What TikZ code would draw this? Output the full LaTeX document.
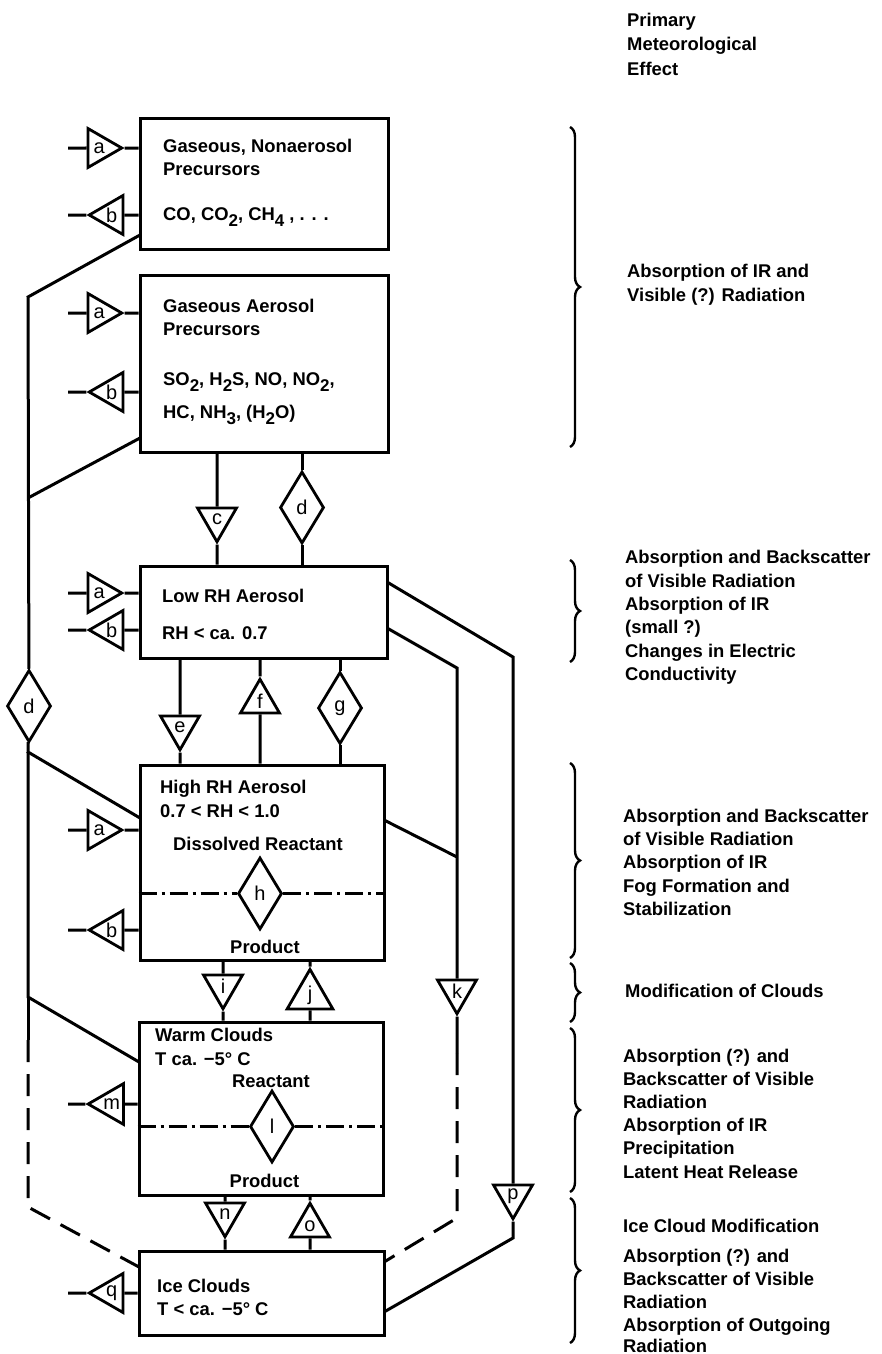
\documentclass[tikz,border=0pt]{standalone}
\usepackage{fontspec}
\setmainfont{Liberation Sans}
\usetikzlibrary{shapes.geometric,decorations.pathreplacing}
\newcommand\sbs[1]{\raisebox{-6.5pt}{\fontsize{17}{17}\selectfont #1}}
\newcommand\rline[4]{\node[rt] (#1) at (#2,#3) {#4};}
\begin{document}
\begin{tikzpicture}[x=1pt,y=-1pt,
  box/.style={draw, line width=3pt, inner sep=0pt},
  txt/.style={inner sep=0pt, font=\fontsize{18.4}{22}\selectfont\bfseries, anchor=base west},
  ctxt/.style={txt, anchor=base},
  rt/.style={txt},
  tri/.style={draw, line width=2.8pt, regular polygon, regular polygon sides=3, minimum size=45pt, inner sep=0pt, font=\fontsize{20}{20}\selectfont},
  tright/.style={tri, shape border rotate=-90},
  tleft/.style={tri, shape border rotate=90},
  tdown/.style={tri, shape border rotate=180},
  tup/.style={tri},
  dia/.style={draw, diamond, line width=2.8pt, minimum width=44pt, minimum height=72pt, inner sep=0pt, font=\fontsize{20}{20}\selectfont},
  link/.style={line width=3pt},
  dashlink/.style={link, dash pattern=on 22pt off 12pt},
  dashdot/.style={line width=2.6pt, dash pattern=on 18pt off 5pt on 3pt off 5pt},
  brc/.style={decorate, decoration={brace, amplitude=10pt}, line width=2.4pt}
]
\useasboundingbox (0,0) rectangle (881,1354);

% boxes
\node[box, minimum width=248pt, minimum height=131pt] (B1) at (264,183.5) {};
\node[box, minimum width=248pt, minimum height=177pt] (B2) at (264,363.5) {};
\node[box, minimum width=247pt, minimum height=92pt] (B3) at (263.5,612) {};
\node[box, minimum width=244pt, minimum height=195pt] (B4) at (262,862.5) {};
\node[box, minimum width=244pt, minimum height=173pt] (B5) at (261,1108.5) {};
\node[box, minimum width=245pt, minimum height=84pt] (B6) at (261.5,1293) {};

% box texts
\node[txt] (x11) at (163,152) {Gaseous, Nonaerosol};
\node[txt] (x12) at (163,175) {Precursors};
\node[txt] (x13) at (163,220) {CO, CO\sbs{2}, CH\sbs{4} , . . .};
\node[txt] (x21) at (163,312) {Gaseous Aerosol};
\node[txt] (x22) at (163,335) {Precursors};
\node[txt] (x23) at (163,385) {SO\sbs{2}, H\sbs{2}S, NO, NO\sbs{2},};
\node[txt] (x24) at (163,418) {HC, NH\sbs{3}, (H\sbs{2}O)};
\node[txt] (x31) at (162,602) {Low RH Aerosol};
\node[txt] (x32) at (162,639) {RH < ca. 0.7};
\node[txt] (x41) at (160,793) {High RH Aerosol};
\node[txt] (x42) at (160,817) {0.7 < RH < 1.0};
\node[ctxt] (x43) at (258,850) {Dissolved Reactant};
\node[ctxt] (x44) at (265,953) {Product};
\node[txt] (x51) at (155,1041) {Warm Clouds};
\node[txt] (x52) at (155,1065) {T ca. −5° C};
\node[ctxt] (x53) at (271,1087) {Reactant};
\node[ctxt] (x54) at (264.5,1187) {Product};
\node[txt] (x61) at (157,1292) {Ice Clouds};
\node[txt] (x62) at (157,1315) {T < ca. −5° C};

% input / output triangles on the left
\node[tright] (Ta1) at (99.25,148) {a};
\node[tleft]  (Tb1) at (111.75,215) {b};
\node[tright] (Ta2) at (99.25,313) {a};
\node[tleft]  (Tb2) at (111.75,392) {b};
\node[tright] (Ta3) at (99.25,593) {a};
\node[tleft]  (Tb3) at (111.75,630) {b};
\node[tright] (Ta4) at (99.25,830) {a};
\node[tleft]  (Tb4) at (111.75,930) {b};
\node[tleft]  (Tm)  at (111.75,1104) {m};
\node[tleft]  (Tq)  at (111.75,1293) {q};
\foreach \n/\y in {a1/148,b1/215,a2/313,b2/392,a3/593,b3/630,a4/830,b4/930,m/1104,q/1293}
  \coordinate (I\n) at (68,\y);
\draw[link] (Ia1) -- (Ta1) -- (B1.west |- Ta1);
\draw[link] (B1.west |- Tb1) -- (Tb1) -- (Ib1);
\draw[link] (Ia2) -- (Ta2) -- (B2.west |- Ta2);
\draw[link] (B2.west |- Tb2) -- (Tb2) -- (Ib2);
\draw[link] (Ia3) -- (Ta3) -- (B3.west |- Ta3);
\draw[link] (B3.west |- Tb3) -- (Tb3) -- (Ib3);
\draw[link] (Ia4) -- (Ta4) -- (B4.west |- Ta4);
\draw[link] (B4.west |- Tb4) -- (Tb4) -- (Ib4);
\draw[link] (B5.west |- Tm) -- (Tm) -- (Im);
\draw[link] (B6.west |- Tq) -- (Tq) -- (Iq);

% vertical links between boxes
\node[tdown] (Tc) at (217,519.25) {c};
\node[dia]   (Dd) at (302,507.5) {d};
\node[tdown] (Te) at (180,727.25) {e};
\node[tup]   (Tf) at (260,701.75) {f};
\node[dia]   (Dg) at (340,708) {g};
\node[dia]   (Dh) at (260,893.5) {h};
\node[tdown] (Ti) at (223,986.25) {i};
\node[tup]   (Tj) at (310,995.75) {j};
\node[tdown] (Tk) at (457,991.25) {k};
\node[dia]   (Dl) at (272,1126.5) {l};
\node[tdown] (Tn) at (225,1214.25) {n};
\node[tup]   (To) at (310,1225.75) {o};
\node[tdown] (Tp) at (513,1196.25) {p};
\node[dia]   (DL) at (29,706) {d};

\draw[link] (B2.south -| Tc) -- (Tc) -- (B3.north -| Tc);
\draw[link] (B2.south -| Dd) -- (Dd) -- (B3.north -| Dd);
\draw[link] (B3.south -| Te) -- (Te) -- (B4.north -| Te);
\draw[link] (B3.south -| Tf) -- (Tf) -- (B4.north -| Tf);
\draw[link] (B3.south -| Dg) -- (Dg) -- (B4.north -| Dg);
\draw[link] (B4.south -| Ti) -- (Ti) -- (B5.north -| Ti);
\draw[link] (B4.south -| Tj) -- (Tj) -- (B5.north -| Tj);
\draw[link] (B5.south -| Tn) -- (Tn) -- (B6.north -| Tn);
\draw[link] (B5.south -| To) -- (To) -- (B6.north -| To);

% reactant / product separators
\draw[dashdot] (B4.west |- Dh) -- (Dh);
\draw[dashdot] (Dh) -- (B4.east |- Dh);
\draw[dashdot] (B5.west |- Dl) -- (Dl);
\draw[dashdot] (Dl) -- (B5.east |- Dl);

% left bus
\coordinate (L1) at (28,297);
\coordinate (L2) at (28,498);
\coordinate (L3) at (28,752);
\coordinate (L4) at (28,997);
\coordinate (L5) at (28,1040);
\coordinate (L6) at (28,1207);
\coordinate (J1) at (140,235);
\coordinate (J2) at (140,438);
\coordinate (J4) at (140,818);
\coordinate (J5) at (139,1062);
\coordinate (J6) at (139,1267);
\draw[link] (J1) -- (L1) -- (DL);
\draw[link] (J2) -- (L2);
\draw[link] (DL) -- (L3) -- (J4);
\draw[link] (L3) -- (L4) -- (J5);
\draw[link] (L4) -- (L5);
\draw[dashlink] (L5) -- (L6) -- (J6);

% right bus
\coordinate (E1) at (387,582);
\coordinate (E2) at (387,628);
\coordinate (E4) at (384,820);
\coordinate (E6a) at (384,1262);
\coordinate (E6b) at (384,1312);
\coordinate (R1) at (513,657);
\coordinate (R2) at (513,1238);
\coordinate (K1) at (457,668);
\coordinate (K0) at (457,857);
\coordinate (K2) at (457,1053);
\coordinate (K3) at (457,1218);
\draw[link] (E1) -- (R1) -- (Tp) -- (R2) -- (E6b);
\draw[link] (E2) -- (K1) -- (Tk) -- (K2);
\draw[link] (E4) -- (K0);
\draw[dashlink] (K2) -- (K3) -- (E6a);

% braces
\draw[brc] (570,127) -- (570,447);
\draw[brc] (570,560) -- (570,662);
\draw[brc] (570,763) -- (570,958);
\draw[brc] (570,963) -- (570,1022);
\draw[brc] (570,1028) -- (570,1192);
\draw[brc] (570,1198) -- (570,1343);

% right column
\rline{h1}{627}{27}{Primary}
\rline{h2}{627}{51}{Meteorological}
\rline{h3}{627}{75}{Effect}
\rline{p11}{627}{277}{Absorption of IR and}
\rline{p12}{627}{301}{Visible (?) Radiation}
\rline{p21}{625}{563}{Absorption and Backscatter}
\rline{p22}{625}{587}{of Visible Radiation}
\rline{p23}{625}{610}{Absorption of IR}
\rline{p24}{625}{633}{(small ?)}
\rline{p25}{625}{657}{Changes in Electric}
\rline{p26}{625}{680}{Conductivity}
\rline{p31}{623}{822}{Absorption and Backscatter}
\rline{p32}{623}{845}{of Visible Radiation}
\rline{p33}{623}{868}{Absorption of IR}
\rline{p34}{623}{892}{Fog Formation and}
\rline{p35}{623}{915}{Stabilization}
\rline{p41}{625}{997}{Modification of Clouds}
\rline{p51}{623}{1062}{Absorption (?) and}
\rline{p52}{623}{1085}{Backscatter of Visible}
\rline{p53}{623}{1108}{Radiation}
\rline{p54}{623}{1131}{Absorption of IR}
\rline{p55}{623}{1154}{Precipitation}
\rline{p56}{623}{1178}{Latent Heat Release}
\rline{p61}{623}{1232}{Ice Cloud Modification}
\rline{p62}{623}{1262}{Absorption (?) and}
\rline{p63}{623}{1285}{Backscatter of Visible}
\rline{p64}{623}{1308}{Radiation}
\rline{p65}{623}{1331}{Absorption of Outgoing}
\rline{p66}{623}{1352}{Radiation}
\end{tikzpicture}
\end{document}
